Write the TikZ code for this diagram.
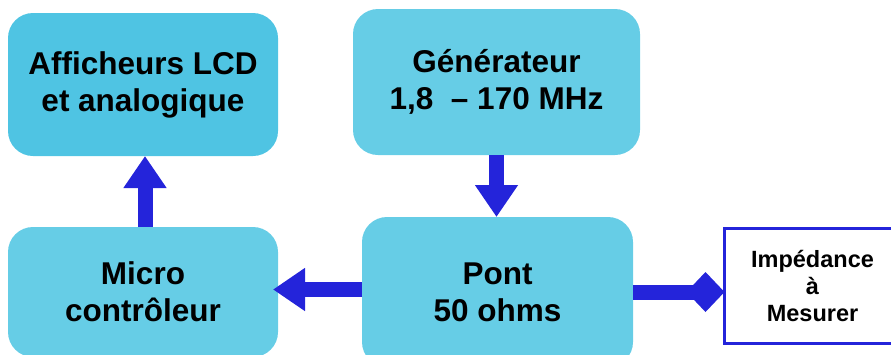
\documentclass[tikz,border=0pt]{standalone}
\usepackage{fontspec}
\setmainfont{Liberation Sans}
\usetikzlibrary{arrows.meta}
\definecolor{boxA}{RGB}{79,196,227}
\definecolor{boxB}{RGB}{102,205,230}
\definecolor{arrowblue}{RGB}{36,36,218}
\tikzset{
  bigbox/.style={rounded corners=25pt, fill=boxB, draw=none, inner sep=0pt, outer sep=0pt,
    align=center, font=\fontsize{31.5}{37}\selectfont\bfseries},
  loadbox/.style={draw=arrowblue, line width=3pt, fill=white, inner sep=0pt, outer sep=0pt,
    align=center, font=\fontsize{23.5}{27}\selectfont\bfseries},
  blockarrow/.style={draw=arrowblue, line width=15pt,
    -{Triangle[width=41pt,length=32pt]}, arrowblue},
  diamondlink/.style={draw=arrowblue, line width=15pt,
    -{Diamond[width=40pt,length=38pt]}, arrowblue}
}
\begin{document}
\begin{tikzpicture}[x=1pt,y=-1pt]
\useasboundingbox (0,0) rectangle (891,354);
\node[bigbox, fill=boxA, minimum width=270pt, minimum height=143pt] (aff) at (143,84.5)
  {Afficheurs LCD\\et analogique};
\node[bigbox, minimum width=287pt, minimum height=146pt] (gen) at (496.5,82)
  {Générateur\\1,8\ \ – 170 MHz};
\node[bigbox, minimum width=270pt, minimum height=130pt] (micro) at (143,292)
  {Micro\\contrôleur};
\node[bigbox, minimum width=271pt, minimum height=150pt] (pont) at (497.5,292)
  {Pont\\50 ohms};
\node[loadbox, minimum width=176pt, minimum height=115pt] (imp) at (812.5,286)
  {Impédance\\à\\Mesurer};
\draw[blockarrow] ([xshift=2pt]micro.north) -- ([xshift=2pt]aff.south);
\draw[blockarrow] (gen.south) -- (gen.south |- pont.north);
\draw[blockarrow] ([yshift=2.5pt]pont.west) -- ([xshift=-5pt,yshift=2.5pt]micro.east);
\draw[diamondlink] (pont.east) -- (pont.east -| imp.west);
\end{tikzpicture}
\end{document}
